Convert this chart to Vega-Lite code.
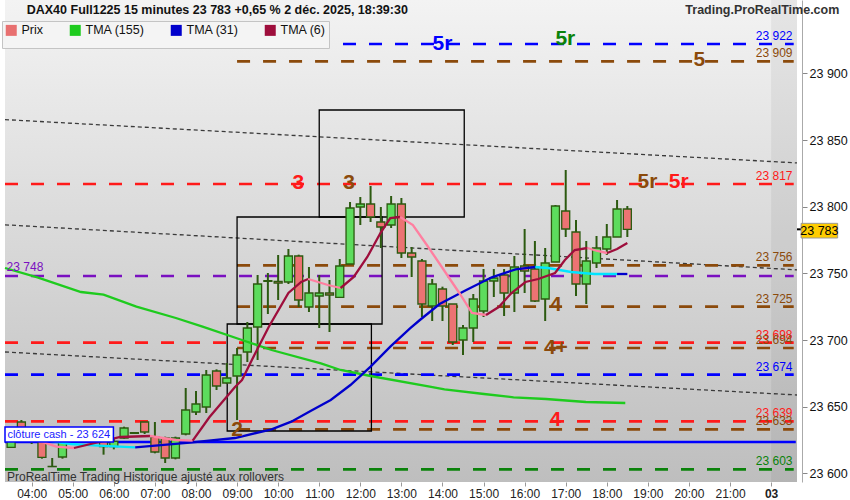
{
  "$schema": "https://vega.github.io/schema/vega-lite/v6.json",
  "width": 802,
  "height": 482,
  "autosize": {"type": "none"},
  "padding": {"left": 0, "top": 0, "right": 48, "bottom": 18},
  "background": "white",
  "config": {
    "font": "Liberation Sans",
    "view": {"stroke": null},
    "axis": {"grid": false, "title": null}
  },
  "datasets": {
    "candles": [
      {"t":3.5,"o":23619.5,"h":23630,"l":23619,"c":23627},
      {"t":3.75,"o":23638.5,"h":23640,"l":23626,"c":23628},
      {"t":4.0,"o":23628,"h":23631,"l":23622,"c":23625},
      {"t":4.25,"o":23624,"h":23626,"l":23611,"c":23612},
      {"t":4.5,"o":23605.2,"h":23611.5,"l":23604.75,"c":23605},
      {"t":4.75,"o":23612.25,"h":23628,"l":23611,"c":23626},
      {"t":5.0,"o":23626,"h":23633,"l":23624,"c":23630},
      {"t":5.25,"o":23630,"h":23632,"l":23625,"c":23627},
      {"t":5.5,"o":23627,"h":23629,"l":23623,"c":23625},
      {"t":5.75,"o":23624,"h":23627,"l":23614,"c":23620},
      {"t":6.0,"o":23620,"h":23626,"l":23618,"c":23624},
      {"t":6.25,"o":23626.5,"h":23635,"l":23626,"c":23634},
      {"t":6.5,"o":23630,"h":23631,"l":23630,"c":23630.5},
      {"t":6.75,"o":23638.5,"h":23638.5,"l":23629.5,"c":23631},
      {"t":7.0,"o":23627.25,"h":23638.5,"l":23615,"c":23616},
      {"t":7.25,"o":23626.5,"h":23627.5,"l":23607.75,"c":23611.5},
      {"t":7.5,"o":23611.5,"h":23627.5,"l":23610.5,"c":23626.5},
      {"t":7.75,"o":23629.5,"h":23664,"l":23628.5,"c":23647.5},
      {"t":8.0,"o":23646,"h":23661.75,"l":23643.75,"c":23652},
      {"t":8.25,"o":23649.75,"h":23677.5,"l":23645.25,"c":23673.75},
      {"t":8.5,"o":23676.75,"h":23678,"l":23662.5,"c":23665.5},
      {"t":8.75,"o":23667.75,"h":23682.75,"l":23667,"c":23671.5},
      {"t":9.0,"o":23673,"h":23694,"l":23640,"c":23688.75},
      {"t":9.25,"o":23691,"h":23713.5,"l":23683.5,"c":23709},
      {"t":9.5,"o":23709.75,"h":23748.75,"l":23685,"c":23742},
      {"t":9.75,"o":23744,"h":23750.25,"l":23719.5,"c":23744.5},
      {"t":10.0,"o":23744,"h":23763.75,"l":23730,"c":23742.75},
      {"t":10.25,"o":23743.5,"h":23768.25,"l":23742,"c":23763},
      {"t":10.5,"o":23763,"h":23764,"l":23724.75,"c":23730},
      {"t":10.75,"o":23724.75,"h":23754.75,"l":23721,"c":23735.25},
      {"t":11.0,"o":23733,"h":23748.75,"l":23709,"c":23735.25},
      {"t":11.25,"o":23735.25,"h":23745,"l":23706,"c":23733.75},
      {"t":11.5,"o":23732,"h":23760.75,"l":23732,"c":23755.5},
      {"t":11.75,"o":23757,"h":23803.5,"l":23757,"c":23799},
      {"t":12.0,"o":23799.75,"h":23807.25,"l":23786.25,"c":23802},
      {"t":12.25,"o":23802,"h":23815.5,"l":23788.5,"c":23792.25},
      {"t":12.5,"o":23788.5,"h":23799.75,"l":23769,"c":23784.75},
      {"t":12.75,"o":23786.25,"h":23808,"l":23784,"c":23802},
      {"t":13.0,"o":23802,"h":23806.5,"l":23761.5,"c":23765.25},
      {"t":13.25,"o":23765.25,"h":23769.75,"l":23747.25,"c":23762.25},
      {"t":13.5,"o":23759.25,"h":23760.75,"l":23717.25,"c":23727},
      {"t":13.75,"o":23725.5,"h":23745.75,"l":23714.25,"c":23742},
      {"t":14.0,"o":23738.25,"h":23740,"l":23714.25,"c":23725.5},
      {"t":14.25,"o":23727,"h":23727,"l":23696.25,"c":23698.5},
      {"t":14.5,"o":23700,"h":23711.25,"l":23688.75,"c":23709},
      {"t":14.75,"o":23709,"h":23734.5,"l":23698.5,"c":23730.75},
      {"t":15.0,"o":23721.75,"h":23753.25,"l":23717.25,"c":23744.25},
      {"t":15.25,"o":23744.25,"h":23753.25,"l":23732.25,"c":23746.5},
      {"t":15.5,"o":23748.75,"h":23753.25,"l":23718,"c":23735.25},
      {"t":15.75,"o":23735.25,"h":23763,"l":23721,"c":23754.75},
      {"t":16.0,"o":23755.5,"h":23783.25,"l":23735.25,"c":23751.75},
      {"t":16.25,"o":23753.25,"h":23774.25,"l":23728.5,"c":23729.25},
      {"t":16.5,"o":23730.75,"h":23769,"l":23714.25,"c":23757.75},
      {"t":16.75,"o":23758.5,"h":23801.25,"l":23758.5,"c":23800.5},
      {"t":17.0,"o":23796.75,"h":23827.5,"l":23777.25,"c":23783.25},
      {"t":17.25,"o":23781,"h":23790,"l":23733,"c":23742},
      {"t":17.5,"o":23742,"h":23774.25,"l":23727,"c":23759.25},
      {"t":17.75,"o":23757.75,"h":23778,"l":23754,"c":23769},
      {"t":18.0,"o":23768.25,"h":23787,"l":23763.75,"c":23777.25},
      {"t":18.25,"o":23777.25,"h":23805,"l":23777.25,"c":23798.25},
      {"t":18.5,"o":23798.25,"h":23800.5,"l":23777.25,"c":23783}
    ],
    "ma": [
      {"t":3.351,"v":23754,"s":"TMA (155)","g":"a"},
      {"t":4.14,"v":23747,"s":"TMA (155)","g":"a"},
      {"t":5.2,"v":23736,"s":"TMA (155)","g":"a"},
      {"t":5.75,"v":23734,"s":"TMA (155)","g":"a"},
      {"t":6.55,"v":23725,"s":"TMA (155)","g":"a"},
      {"t":7.51,"v":23716.5,"s":"TMA (155)","g":"a"},
      {"t":8.16,"v":23710,"s":"TMA (155)","g":"a"},
      {"t":9.12,"v":23700,"s":"TMA (155)","g":"a"},
      {"t":9.84,"v":23692.5,"s":"TMA (155)","g":"a"},
      {"t":11.04,"v":23682.5,"s":"TMA (155)","g":"a"},
      {"t":11.52,"v":23677.5,"s":"TMA (155)","g":"a"},
      {"t":12.25,"v":23673,"s":"TMA (155)","g":"a"},
      {"t":13.69,"v":23665,"s":"TMA (155)","g":"a"},
      {"t":14.05,"v":23663,"s":"TMA (155)","g":"a"},
      {"t":15.01,"v":23659.5,"s":"TMA (155)","g":"a"},
      {"t":15.73,"v":23657,"s":"TMA (155)","g":"a"},
      {"t":16.52,"v":23655.75,"s":"TMA (155)","g":"a"},
      {"t":17.49,"v":23653.5,"s":"TMA (155)","g":"a"},
      {"t":18.45,"v":23652.75,"s":"TMA (155)","g":"a"},

      {"t":3.351,"v":23630,"s":"TMA (31) b","g":"c1"},
      {"t":4.5,"v":23624,"s":"TMA (31) b","g":"c1"},
      {"t":4.96,"v":23622,"s":"TMA (31) b","g":"c1"},
      {"t":5.5,"v":23621,"s":"TMA (31) b","g":"c1"},
      {"t":6.52,"v":23619.5,"s":"TMA (31) b","g":"c1"},
      {"t":6.52,"v":23619.5,"s":"TMA (31)","g":"b1"},
      {"t":7.85,"v":23623,"s":"TMA (31)","g":"b1"},
      {"t":8.95,"v":23626.5,"s":"TMA (31)","g":"b1"},
      {"t":9.84,"v":23633,"s":"TMA (31)","g":"b1"},
      {"t":10.32,"v":23638.75,"s":"TMA (31)","g":"b1"},
      {"t":10.8,"v":23647,"s":"TMA (31)","g":"b1"},
      {"t":11.28,"v":23655,"s":"TMA (31)","g":"b1"},
      {"t":11.76,"v":23666.25,"s":"TMA (31)","g":"b1"},
      {"t":12.25,"v":23680,"s":"TMA (31)","g":"b1"},
      {"t":12.73,"v":23695,"s":"TMA (31)","g":"b1"},
      {"t":13.21,"v":23708.75,"s":"TMA (31)","g":"b1"},
      {"t":13.45,"v":23715,"s":"TMA (31)","g":"b1"},
      {"t":13.93,"v":23727,"s":"TMA (31)","g":"b1"},
      {"t":14.58,"v":23737.5,"s":"TMA (31)","g":"b1"},
      {"t":15.2,"v":23747,"s":"TMA (31)","g":"b1"},
      {"t":15.78,"v":23753,"s":"TMA (31)","g":"b1"},
      {"t":16.26,"v":23754.75,"s":"TMA (31)","g":"b1"},
      {"t":16.26,"v":23754.75,"s":"TMA (31) b","g":"c2"},
      {"t":16.57,"v":23754,"s":"TMA (31) b","g":"c2"},
      {"t":17.13,"v":23751,"s":"TMA (31) b","g":"c2"},
      {"t":17.7,"v":23749.5,"s":"TMA (31) b","g":"c2"},
      {"t":18.25,"v":23749.5,"s":"TMA (31) b","g":"c2"},
      {"t":18.25,"v":23749.5,"s":"TMA (31)","g":"b2"},
      {"t":18.5,"v":23749.5,"s":"TMA (31)","g":"b2"},

      {"t":3.351,"v":23633,"s":"TMA (6) b","g":"p1"},
      {"t":4.6,"v":23620,"s":"TMA (6) b","g":"p1"},
      {"t":5.03,"v":23619,"s":"TMA (6) b","g":"p1"},
      {"t":5.03,"v":23619,"s":"TMA (6)","g":"m1"},
      {"t":6.16,"v":23627.25,"s":"TMA (6)","g":"m1"},
      {"t":6.88,"v":23628,"s":"TMA (6)","g":"m1"},
      {"t":6.88,"v":23628,"s":"TMA (6) b","g":"p2"},
      {"t":7.51,"v":23625,"s":"TMA (6) b","g":"p2"},
      {"t":7.92,"v":23624.5,"s":"TMA (6) b","g":"p2"},
      {"t":7.92,"v":23624.5,"s":"TMA (6)","g":"m2"},
      {"t":8.33,"v":23642.25,"s":"TMA (6)","g":"m2"},
      {"t":8.95,"v":23664.75,"s":"TMA (6)","g":"m2"},
      {"t":9.12,"v":23670,"s":"TMA (6)","g":"m2"},
      {"t":9.36,"v":23685,"s":"TMA (6)","g":"m2"},
      {"t":9.77,"v":23709.75,"s":"TMA (6)","g":"m2"},
      {"t":10.25,"v":23735.25,"s":"TMA (6)","g":"m2"},
      {"t":10.56,"v":23743.5,"s":"TMA (6)","g":"m2"},
      {"t":10.73,"v":23745.75,"s":"TMA (6)","g":"m2"},
      {"t":10.73,"v":23745.75,"s":"TMA (6) b","g":"p3"},
      {"t":11.21,"v":23741.25,"s":"TMA (6) b","g":"p3"},
      {"t":11.52,"v":23739,"s":"TMA (6) b","g":"p3"},
      {"t":11.52,"v":23739,"s":"TMA (6)","g":"m3"},
      {"t":11.84,"v":23747.25,"s":"TMA (6)","g":"m3"},
      {"t":12.17,"v":23762.25,"s":"TMA (6)","g":"m3"},
      {"t":12.49,"v":23780.25,"s":"TMA (6)","g":"m3"},
      {"t":12.73,"v":23791.5,"s":"TMA (6)","g":"m3"},
      {"t":12.97,"v":23792.25,"s":"TMA (6)","g":"m3"},
      {"t":12.97,"v":23792.25,"s":"TMA (6) b","g":"p4"},
      {"t":13.28,"v":23786.25,"s":"TMA (6) b","g":"p4"},
      {"t":13.62,"v":23771.25,"s":"TMA (6) b","g":"p4"},
      {"t":14.0,"v":23754,"s":"TMA (6) b","g":"p4"},
      {"t":14.41,"v":23735.25,"s":"TMA (6) b","g":"p4"},
      {"t":14.72,"v":23720.25,"s":"TMA (6) b","g":"p4"},
      {"t":15.06,"v":23718.75,"s":"TMA (6) b","g":"p4"},
      {"t":15.06,"v":23718.75,"s":"TMA (6)","g":"m4"},
      {"t":15.37,"v":23724.75,"s":"TMA (6)","g":"m4"},
      {"t":15.68,"v":23735.25,"s":"TMA (6)","g":"m4"},
      {"t":16.02,"v":23743.5,"s":"TMA (6)","g":"m4"},
      {"t":16.33,"v":23745.75,"s":"TMA (6)","g":"m4"},
      {"t":16.74,"v":23750.25,"s":"TMA (6)","g":"m4"},
      {"t":16.98,"v":23760,"s":"TMA (6)","g":"m4"},
      {"t":17.22,"v":23767.5,"s":"TMA (6)","g":"m4"},
      {"t":17.53,"v":23769,"s":"TMA (6)","g":"m4"},
      {"t":17.53,"v":23769,"s":"TMA (6) b","g":"p5"},
      {"t":17.77,"v":23766.75,"s":"TMA (6) b","g":"p5"},
      {"t":18.01,"v":23765.25,"s":"TMA (6) b","g":"p5"},
      {"t":18.01,"v":23765.25,"s":"TMA (6)","g":"m5"},
      {"t":18.25,"v":23768.25,"s":"TMA (6)","g":"m5"},
      {"t":18.5,"v":23772.75,"s":"TMA (6)","g":"m5"}
    ],
    "trends": [
      {"t":3.351,"v":23865.3,"g":"A"},{"t":22.63,"v":23832.8,"g":"A"},
      {"t":3.351,"v":23786.4,"g":"B"},{"t":22.63,"v":23752.6,"g":"B"},
      {"t":3.351,"v":23691,"g":"C"},{"t":22.63,"v":23658.75,"g":"C"}
    ],
    "levels": [
      {"t":3.351,"t1":22.55,"v":23922,"c":"bleu","lab":"23 922"},
      {"t":9,"t1":22.55,"v":23909,"c":"marron","lab":"23 909"},
      {"t":3.351,"t1":22.55,"v":23817,"c":"rouge","lab":"23 817"},
      {"t":9,"t1":22.55,"v":23756,"c":"marron","lab":"23 756"},
      {"t":3.351,"t1":22.55,"v":23748,"c":"violet","lab":""},
      {"t":9,"t1":22.55,"v":23725,"c":"marron","lab":"23 725"},
      {"t":3.351,"t1":22.55,"v":23698,"c":"rouge","lab":"23 698"},
      {"t":9,"t1":22.55,"v":23694,"c":"marron","lab":"23 694"},
      {"t":3.351,"t1":22.55,"v":23674,"c":"bleu","lab":"23 674"},
      {"t":3.351,"t1":22.55,"v":23639,"c":"rouge","lab":"23 639"},
      {"t":9,"t1":22.55,"v":23633,"c":"marron","lab":"23 633"},
      {"t":3.351,"t1":22.55,"v":23603,"c":"vert","lab":"23 603"}
    ],
    "boxes": [
      {"t":8.76,"t1":12.27,"v":23631.75,"v1":23712},
      {"t":9.0,"t1":12.53,"v":23712,"v1":23792.25},
      {"t":11.0,"t1":14.53,"v":23792.25,"v1":23872.5}
    ],
    "labels": [
      {"t":14.0,"v":23922,"txt":"5r","c":"bleu"},
      {"t":16.99,"v":23925.4,"txt":"5r","c":"vert"},
      {"t":20.25,"v":23910,"txt":"5","c":"marron"},
      {"t":10.49,"v":23817.5,"txt":"3","c":"rouge"},
      {"t":11.73,"v":23817.5,"txt":"3","c":"marron"},
      {"t":18.99,"v":23818.7,"txt":"5r","c":"marron"},
      {"t":19.75,"v":23818.7,"txt":"5r","c":"rouge"},
      {"t":16.76,"v":23726,"txt":"4","c":"marron"},
      {"t":16.76,"v":23693.75,"txt":"4+","c":"marron"},
      {"t":16.75,"v":23640,"txt":"4","c":"rouge"},
      {"t":9.0,"v":23632.5,"txt":"2","c":"marron"}
    ]
  },
  "layer": [
    {
      "data": {"values": [{}]},
      "mark": {"type": "rect", "color": {"gradient": "linear", "x1": 0, "y1": 0, "x2": 0, "y2": 1, "stops": [{"offset": 0, "color": "#f3f3f3"}, {"offset": 1, "color": "#bebebe"}]}},
      "encoding": {
        "x": {"datum": 3.351, "type": "quantitative", "scale": {"domain": [3.351, 22.63], "nice": false, "zero": false},
              "axis": {"values": [4,5,6,7,8,9,10,11,12,13,14,15,16,17,18,19,20,21,22], "domain": false, "tickSize": 4, "tickColor": "#999", "labelPadding": 2, "labelFontSize": 12, "labelColor": "#222",
                       "labelExpr": "datum.value == 22 ? '03' : (datum.value < 10 ? '0' : '') + datum.value + ':00'",
                       "labelFontWeight": {"expr": "datum.value == 22 ? 'bold' : 'normal'"}}},
        "x2": {"datum": 22.63},
        "y": {"datum": 23593.5, "type": "quantitative", "scale": {"domain": [23593.5, 23955], "nice": false, "zero": false},
              "axis": {"orient": "right", "values": [23600,23650,23700,23750,23800,23850,23900], "domain": true, "domainColor": "#aaa", "tickSize": 5, "tickColor": "#888", "labelPadding": 2, "labelFontSize": 12.5, "labelColor": "#111",
                       "labelExpr": "replace(format(datum.value, ','), ',', ' ')"}},
        "y2": {"datum": 23955}
      }
    },
    {
      "data": {"values": [{}]},
      "mark": {"type": "rect", "color": "#000", "opacity": 0.05},
      "encoding": {
        "x": {"datum": 22.0, "type": "quantitative"},
        "x2": {"datum": 22.63},
        "y": {"datum": 23593.5, "type": "quantitative"},
        "y2": {"datum": 23955}
      }
    },
    {
      "data": {"name": "trends"},
      "mark": {"type": "line", "color": "#3a3a3a", "strokeWidth": 1.3, "strokeDash": [4, 3]},
      "encoding": {
        "x": {"field": "t", "type": "quantitative"},
        "y": {"field": "v", "type": "quantitative"},
        "detail": {"field": "g"}
      }
    },
    {
      "data": {"name": "levels"},
      "mark": {"type": "rule", "strokeWidth": 2.6, "strokeDash": [13, 13]},
      "encoding": {
        "x": {"field": "t", "type": "quantitative"},
        "x2": {"field": "t1"},
        "y": {"field": "v", "type": "quantitative"},
        "color": {"field": "c", "type": "nominal", "legend": null,
                  "scale": {"domain": ["bleu", "marron", "rouge", "violet", "vert"], "range": ["#0000ff", "#8b4a0b", "#ff1a1a", "#7a10c0", "#0a820a"]}}
      }
    },
    {
      "data": {"values": [{}]},
      "mark": {"type": "rule", "color": "#0000ff", "strokeWidth": 2.4},
      "encoding": {
        "x": {"datum": 3.351, "type": "quantitative"},
        "x2": {"datum": 22.6},
        "y": {"datum": 23623.5, "type": "quantitative"}
      }
    },
    {
      "data": {"name": "boxes"},
      "mark": {"type": "rect", "fill": null, "fillOpacity": 0, "stroke": "#000", "strokeWidth": 1.3},
      "encoding": {
        "x": {"field": "t", "type": "quantitative"},
        "x2": {"field": "t1"},
        "y": {"field": "v", "type": "quantitative"},
        "y2": {"field": "v1"}
      }
    },
    {
      "data": {"name": "candles"},
      "mark": {"type": "rule", "color": "#2c5a10", "strokeWidth": 2},
      "encoding": {
        "x": {"field": "t", "type": "quantitative"},
        "y": {"field": "l", "type": "quantitative"},
        "y2": {"field": "h"}
      }
    },
    {
      "data": {"name": "candles"},
      "mark": {"type": "bar", "orient": "vertical", "size": 8, "stroke": "#2c5a10", "strokeWidth": 1.3},
      "encoding": {
        "x": {"field": "t", "type": "quantitative"},
        "y": {"field": "o", "type": "quantitative"},
        "y2": {"field": "c"},
        "fill": {"condition": {"test": "datum.c >= datum.o", "value": "#5ddc5d"}, "value": "#ec7373"}
      }
    },
    {
      "data": {"name": "ma"},
      "mark": {"type": "line", "strokeWidth": 2.3},
      "encoding": {
        "x": {"field": "t", "type": "quantitative"},
        "y": {"field": "v", "type": "quantitative"},
        "detail": {"field": "g"},
        "stroke": {"field": "s", "type": "nominal",
                   "scale": {"domain": ["Prix", "TMA (155)", "TMA (31)", "TMA (6)", "TMA (31) b", "TMA (6) b"],
                             "range": ["#e87070", "#1ecb1e", "#0000cc", "#9e0e3c", "#00e5ff", "#ff7fa0"]},
                   "legend": {"values": ["Prix", "TMA (155)", "TMA (31)", "TMA (6)"], "title": null, "orient": "none", "legendX": 2, "legendY": 21,
                              "direction": "horizontal", "symbolType": "square", "symbolSize": 25, "symbolStrokeWidth": 6,
                              "labelFontSize": 12.5, "labelColor": "#111", "columnPadding": 16, "fillColor": "#f4f4f4", "strokeColor": "#c4c4c4", "padding": 3}}
      }
    },
    {
      "data": {"name": "labels"},
      "mark": {"type": "text", "fontSize": 21, "fontWeight": "bold", "align": "center", "baseline": "middle"},
      "encoding": {
        "x": {"field": "t", "type": "quantitative"},
        "y": {"field": "v", "type": "quantitative"},
        "text": {"field": "txt"},
        "color": {"field": "c", "type": "nominal", "legend": null}
      }
    },
    {
      "data": {"name": "levels"},
      "mark": {"type": "text", "fontSize": 12, "align": "right", "baseline": "bottom", "dy": -1},
      "encoding": {
        "x": {"datum": 22.52, "type": "quantitative"},
        "y": {"field": "v", "type": "quantitative"},
        "text": {"field": "lab"},
        "color": {"field": "c", "type": "nominal", "legend": null}
      }
    },
    {
      "data": {"values": [{}]},
      "mark": {"type": "text", "fontSize": 12, "align": "left", "baseline": "bottom", "color": "#7a10c0", "text": "23 748", "dy": -2},
      "encoding": {
        "x": {"datum": 3.39, "type": "quantitative"},
        "y": {"datum": 23748, "type": "quantitative"}
      }
    },
    {
      "data": {"values": [{}]},
      "mark": {"type": "rect", "fill": "#ffffff", "stroke": "#0000ff", "strokeWidth": 1.5},
      "encoding": {
        "x": {"datum": 3.351, "type": "quantitative"},
        "x2": {"datum": 5.99},
        "y": {"datum": 23623.5, "type": "quantitative"},
        "y2": {"datum": 23634.75}
      }
    },
    {
      "data": {"values": [{}]},
      "mark": {"type": "text", "fontSize": 11, "align": "left", "baseline": "middle", "color": "#1a1aff", "text": "clôture cash -  23 624"},
      "encoding": {
        "x": {"datum": 3.41, "type": "quantitative"},
        "y": {"datum": 23629, "type": "quantitative"}
      }
    },
    {
      "data": {"values": [{}]},
      "mark": {"type": "text", "fontSize": 12.5, "fontWeight": "bold", "align": "left", "baseline": "middle", "color": "#111", "text": "DAX40 Full1225 15 minutes 23 783 +0,65 % 2 déc. 2025, 18:39:30"},
      "encoding": {
        "x": {"datum": 3.88, "type": "quantitative"},
        "y": {"datum": 23947.5, "type": "quantitative"}
      }
    },
    {
      "data": {"values": [{}]},
      "mark": {"type": "text", "fontSize": 12.5, "fontWeight": "bold", "align": "right", "baseline": "middle", "color": "#333", "text": "Trading.ProRealTime.com"},
      "encoding": {
        "x": {"datum": 23.66, "type": "quantitative"},
        "y": {"datum": 23947.5, "type": "quantitative"}
      }
    },
    {
      "data": {"values": [{}]},
      "mark": {"type": "text", "fontSize": 12, "align": "left", "baseline": "middle", "color": "#333", "text": "ProRealTime Trading  Historique ajusté aux rollovers"},
      "encoding": {
        "x": {"datum": 3.4, "type": "quantitative"},
        "y": {"datum": 23597.5, "type": "quantitative"}
      }
    },
    {
      "data": {"values": [{}]},
      "mark": {"type": "rule", "color": "#000", "strokeWidth": 2},
      "encoding": {
        "x": {"datum": 22.63, "type": "quantitative"},
        "x2": {"datum": 22.73},
        "y": {"datum": 23783, "type": "quantitative"}
      }
    },
    {
      "data": {"values": [{}]},
      "mark": {"type": "rect", "fill": "#ffcc00", "stroke": "#999", "strokeWidth": 1},
      "encoding": {
        "x": {"datum": 22.73, "type": "quantitative"},
        "x2": {"datum": 23.62},
        "y": {"datum": 23776.5, "type": "quantitative"},
        "y2": {"datum": 23787.5}
      }
    },
    {
      "data": {"values": [{}]},
      "mark": {"type": "text", "fontSize": 12.5, "align": "center", "baseline": "middle", "color": "#000", "text": "23 783"},
      "encoding": {
        "x": {"datum": 23.175, "type": "quantitative"},
        "y": {"datum": 23782, "type": "quantitative"}
      }
    }
  ]
}
